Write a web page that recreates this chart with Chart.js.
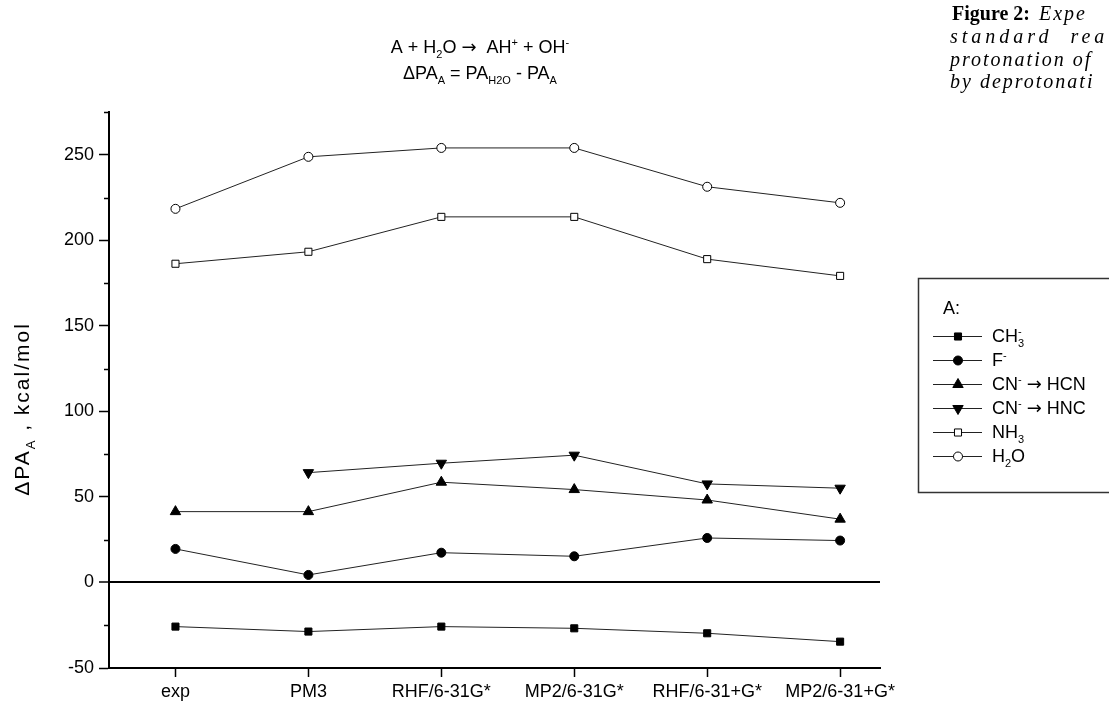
<!DOCTYPE html>
<html>
<head>
<meta charset="utf-8">
<script src="https://cdn.jsdelivr.net/npm/chart.js"></script>
<style>
  html, body { margin: 0; padding: 0; background: #fff; }
  canvas { display: block; }
</style>
</head>
<body>
<canvas id="chart" width="1109" height="710"></canvas>
<script>
// x categories (methods)
const categories = ['exp', 'PM3', 'RHF/6-31G*', 'MP2/6-31G*', 'RHF/6-31+G*', 'MP2/6-31+G*'];

// ΔPA values, kcal/mol
const ch3 = [-25.8, -28.7, -25.8, -26.8, -29.7, -34.6];
const fluoride = [19.6, 4.4, 17.4, 15.3, 26.0, 24.5];
const cnToHcn = [41.4, 41.4, 58.6, 54.3, 48.2, 37.0];
const cnToHnc = [null, 64.2, 69.7, 74.4, 57.6, 55.1];
const nh3 = [186.3, 193.3, 213.7, 213.7, 189.0, 179.2];
const h2o = [218.4, 248.8, 254.0, 254.0, 231.3, 221.9];

// series names, _ = subscript, ^ = superscript
const seriesNames = ['CH_3^-', 'F^-', 'CN^- → HCN', 'CN^- → HNC', 'NH_3', 'H_2O'];

const yLabelTicks = [-50, 0, 50, 100, 150, 200, 250];

const FONT = '"Liberation Sans", Arial, sans-serif';
const ARROW_FONT = '"DejaVu Sans", sans-serif';
const SERIF = '"Liberation Serif", "Times New Roman", serif';

function parseRich(str) {
  const parts = [];
  let i = 0, buf = '';
  const flush = () => {
    if (!buf) return;
    // the arrow gets its own font
    buf.split(/(→)/).forEach(s => { if (s) parts.push({ t: s, k: s === '→' ? 2 : 0 }); });
    buf = '';
  };
  while (i < str.length) {
    const c = str[i];
    if (c === '_' || c === '^') {
      flush();
      let t;
      if (str[i + 1] === '{') {
        const j = str.indexOf('}', i + 2);
        t = str.slice(i + 2, j);
        i = j + 1;
      } else {
        t = str[i + 1];
        i += 2;
      }
      parts.push({ t: t, k: c === '_' ? 1 : -1 });
    } else {
      buf += c;
      i++;
    }
  }
  flush();
  return parts;
}

function drawRich(ctx, str, x, y, size, align) {
  const parts = parseRich(str);
  const small = Math.round(size * 0.6);
  const fontFor = k => (k === 2 ? size + 'px ' + ARROW_FONT : (k ? small : size) + 'px ' + FONT);
  // measure, stacking a sup right after a sub
  let w = 0, prev = null;
  parts.forEach(p => {
    ctx.font = fontFor(p.k);
    p.w = ctx.measureText(p.t).width;
    if (prev && prev.k === 1 && p.k === -1) {
      p.stack = true;
      w += Math.max(0, p.w - prev.w);
    } else {
      w += p.w;
    }
    prev = p;
  });
  let cx = align === 'center' ? x - w / 2 : x;
  ctx.textAlign = 'left';
  ctx.textBaseline = 'alphabetic';
  prev = null;
  parts.forEach(p => {
    ctx.font = fontFor(p.k);
    const dy = p.k === 1 ? size * 0.3 : p.k === -1 ? -size * 0.38 : 0;
    if (p.stack) {
      const sx = cx - prev.w;
      ctx.fillText(p.t, sx, y + dy);
      cx = sx + Math.max(prev.w, p.w);
    } else {
      ctx.fillText(p.t, cx, y + dy);
      cx += p.w;
    }
    prev = p;
  });
}

const toPoints = arr => arr.map((v, i) => ({ x: i, y: v }));

const styles = [
  { pointStyle: 'rect', rotation: 0, fill: '#000', radius: 5 },
  { pointStyle: 'circle', rotation: 0, fill: '#000', radius: 4.5 },
  { pointStyle: 'triangle', rotation: 0, fill: '#000', radius: 6 },
  { pointStyle: 'triangle', rotation: 180, fill: '#000', radius: 6 },
  { pointStyle: 'rect', rotation: 0, fill: '#fff', radius: 5 },
  { pointStyle: 'circle', rotation: 0, fill: '#fff', radius: 4.5 }
];

const seriesData = [ch3, fluoride, cnToHcn, cnToHnc, nh3, h2o];

const datasets = seriesData.map((arr, i) => ({
  label: seriesNames[i],
  data: toPoints(arr),
  borderColor: '#222',
  borderWidth: 1,
  pointStyle: styles[i].pointStyle,
  pointRotation: styles[i].rotation,
  pointRadius: styles[i].radius,
  pointBackgroundColor: styles[i].fill,
  pointBorderColor: '#000',
  pointBorderWidth: 1,
  fill: false,
  tension: 0
}));

const decorations = {
  id: 'decorations',
  afterDraw(chart) {
    const ctx = chart.ctx;
    const y = chart.scales.y;
    const area = chart.chartArea;
    ctx.save();

    // minor ticks on the y axis
    ctx.strokeStyle = '#000';
    ctx.lineWidth = 1.5;
    for (let v = -25; v <= 275; v += 50) {
      const py = Math.round(y.getPixelForValue(v)) + 0.5;
      ctx.beginPath();
      ctx.moveTo(area.left - 5, py);
      ctx.lineTo(area.left, py);
      ctx.stroke();
    }

    ctx.fillStyle = '#000';
    // title
    drawRich(ctx, 'A + H_2O →  AH^+ + OH^-', 480, 53, 18, 'center');
    drawRich(ctx, 'ΔPA_A = PA_{H2O} - PA_A', 480, 79, 18, 'center');

    // y axis title
    ctx.save();
    ctx.translate(29, 409);
    ctx.rotate(-Math.PI / 2);
    ctx.letterSpacing = '2px';
    drawRich(ctx, 'ΔPA_A , kcal/mol', 0, 0, 21, 'center');
    ctx.letterSpacing = '0px';
    ctx.restore();

    // legend box
    ctx.strokeStyle = '#333';
    ctx.lineWidth = 1.5;
    ctx.strokeRect(918.5, 278.5, 260, 214);
    drawRich(ctx, 'A:', 943, 314, 18, 'left');
    chart.data.datasets.forEach((ds, i) => {
      const ry = 336 + 24 * i;
      ctx.strokeStyle = '#222';
      ctx.lineWidth = 1;
      ctx.beginPath();
      ctx.moveTo(933, ry + 0.5);
      ctx.lineTo(982, ry + 0.5);
      ctx.stroke();
      ctx.fillStyle = ds.pointBackgroundColor;
      ctx.strokeStyle = '#000';
      ctx.lineWidth = 1;
      Chart.helpers.drawPoint(ctx, {
        pointStyle: ds.pointStyle,
        rotation: ds.pointRotation,
        radius: ds.pointRadius,
        borderWidth: 1
      }, 958, ry + 0.5);
      ctx.fillStyle = '#000';
      drawRich(ctx, ds.label, 992, ry + 6, 18, 'left');
    });

    // figure caption (justified text, cut by the page edge)
    ctx.fillStyle = '#000';
    ctx.textAlign = 'left';
    ctx.textBaseline = 'alphabetic';
    ctx.font = 'bold 20px ' + SERIF;
    ctx.fillText('Figure 2:', 952, 20);
    const bw = ctx.measureText('Figure 2: ').width;
    ctx.font = 'italic 20px ' + SERIF;
    ctx.letterSpacing = '2px';
    ctx.fillText('Expe', 956 + bw, 20);
    ctx.letterSpacing = '4px';
    ctx.fillText('standard  rea', 950, 43);
    ctx.letterSpacing = '2px';
    ctx.fillText('protonation of', 950, 66);
    ctx.fillText('by deprotonati', 950, 88);
    ctx.letterSpacing = '0px';

    ctx.restore();
  }
};

new Chart(document.getElementById('chart'), {
  type: 'line',
  data: { datasets: datasets },
  plugins: [decorations],
  options: {
    responsive: false,
    animation: false,
    layout: { padding: { left: 0, top: 112, right: 229, bottom: 0 } },
    plugins: {
      legend: { display: false },
      tooltip: { enabled: false },
      title: { display: false }
    },
    scales: {
      x: {
        type: 'linear',
        min: -0.5,
        max: 5.3,
        afterFit: s => { s.height = 42; },
        afterBuildTicks: s => { s.ticks = categories.map((c, i) => ({ value: i })); },
        border: { color: '#000', width: 2 },
        grid: { drawOnChartArea: false, tickLength: 9, tickColor: '#000', tickWidth: 1.5 },
        ticks: {
          autoSkip: false,
          maxRotation: 0,
          padding: 4,
          color: '#000',
          font: { family: FONT, size: 18 },
          callback: v => categories[v]
        }
      },
      y: {
        min: -50,
        max: 275,
        afterFit: s => { s.width = 109; },
        border: { color: '#000', width: 2 },
        grid: {
          drawOnChartArea: true,
          color: c => (c.tick && c.tick.value === 0 ? '#000' : 'rgba(0,0,0,0)'),
          lineWidth: c => (c.tick && c.tick.value === 0 ? 2 : 1),
          tickLength: 10,
          tickWidth: 1.5,
          tickColor: c => (c.tick && yLabelTicks.includes(c.tick.value) ? '#000' : 'rgba(0,0,0,0)')
        },
        ticks: {
          stepSize: 25,
          padding: 5,
          color: '#000',
          font: { family: FONT, size: 18 },
          callback: v => (yLabelTicks.includes(v) ? v : '')
        }
      }
    }
  }
});
</script>
</body>
</html>
